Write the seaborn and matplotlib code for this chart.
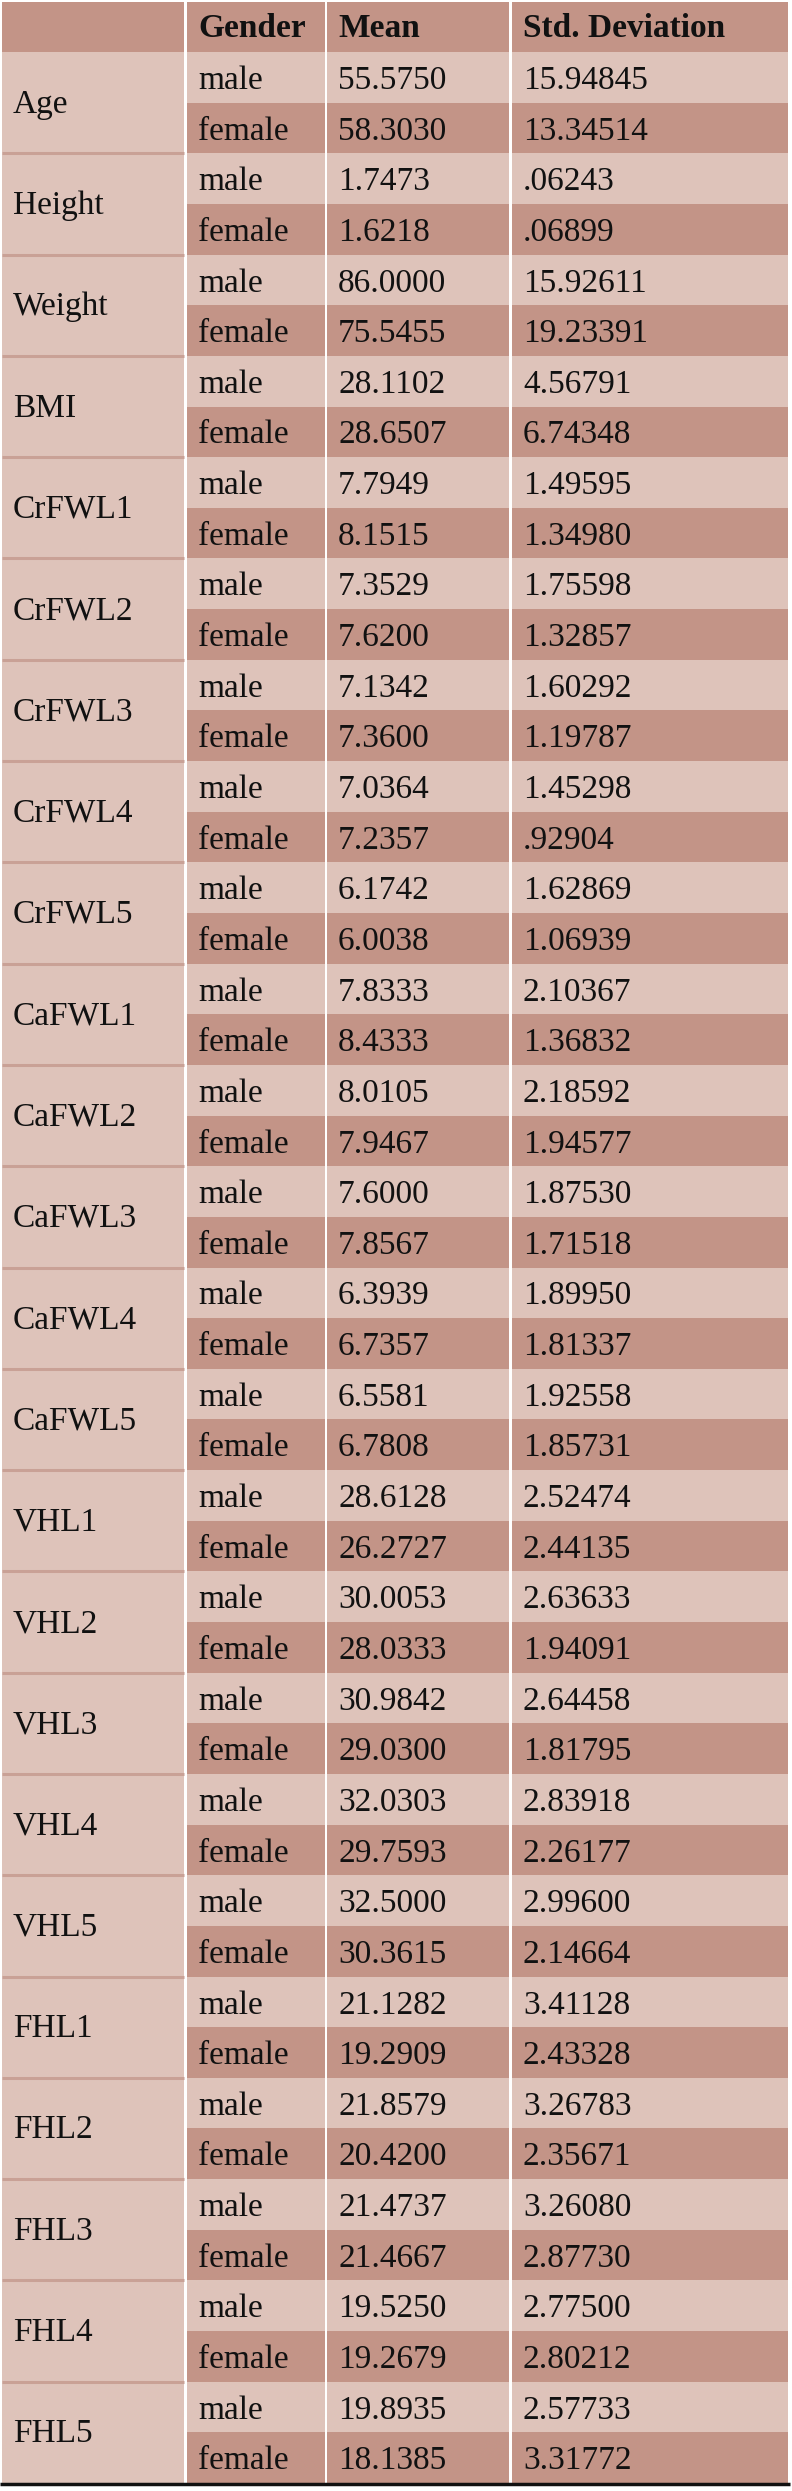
import numpy as np
import seaborn as sns
import matplotlib.pyplot as plt

sns.set_theme(style='white')
plt.rcParams['font.family'] = ['Liberation Serif', 'DejaVu Serif']

# table contents
variables = ['Age', 'Height', 'Weight', 'BMI',
             'CrFWL1', 'CrFWL2', 'CrFWL3', 'CrFWL4', 'CrFWL5',
             'CaFWL1', 'CaFWL2', 'CaFWL3', 'CaFWL4', 'CaFWL5',
             'VHL1', 'VHL2', 'VHL3', 'VHL4', 'VHL5',
             'FHL1', 'FHL2', 'FHL3', 'FHL4', 'FHL5']
genders = ['male', 'female']
headers = ['', 'Gender', 'Mean', 'Std. Deviation']

male_mean = ['55.5750', '1.7473', '86.0000', '28.1102',
             '7.7949', '7.3529', '7.1342', '7.0364', '6.1742',
             '7.8333', '8.0105', '7.6000', '6.3939', '6.5581',
             '28.6128', '30.0053', '30.9842', '32.0303', '32.5000',
             '21.1282', '21.8579', '21.4737', '19.5250', '19.8935']
female_mean = ['58.3030', '1.6218', '75.5455', '28.6507',
               '8.1515', '7.6200', '7.3600', '7.2357', '6.0038',
               '8.4333', '7.9467', '7.8567', '6.7357', '6.7808',
               '26.2727', '28.0333', '29.0300', '29.7593', '30.3615',
               '19.2909', '20.4200', '21.4667', '19.2679', '18.1385']
male_sd = ['15.94845', '.06243', '15.92611', '4.56791',
           '1.49595', '1.75598', '1.60292', '1.45298', '1.62869',
           '2.10367', '2.18592', '1.87530', '1.89950', '1.92558',
           '2.52474', '2.63633', '2.64458', '2.83918', '2.99600',
           '3.41128', '3.26783', '3.26080', '2.77500', '2.57733']
female_sd = ['13.34514', '.06899', '19.23391', '6.74348',
             '1.34980', '1.32857', '1.19787', '.92904', '1.06939',
             '1.36832', '1.94577', '1.71518', '1.81337', '1.85731',
             '2.44135', '1.94091', '1.81795', '2.26177', '2.14664',
             '2.43328', '2.35671', '2.87730', '2.80212', '3.31772']

light = '#dec3ba'
dark = '#c39487'
sep = '#c9a196'

W, H = 792, 2491
col_left = np.array([2, 187, 327, 512])
col_right = np.array([184, 325, 509, 788])
col_w = col_right - col_left
head_top, head_bot = 2, 52
body_bot = 2483

n_rows = len(variables) * len(genders)
row_h = (body_bot - head_bot) / n_rows
row_top = head_bot + np.arange(n_rows) * row_h
row_colors = [light if i % 2 == 0 else dark for i in range(n_rows)]

grp_h = row_h * len(genders)
grp_top = head_bot + np.arange(len(variables)) * grp_h

fig = plt.figure(figsize=(W / 100, H / 100), dpi=100)
ax = fig.add_axes([0, 0, 1, 1])
ax.set_xlim(0, W)
ax.set_ylim(H, 0)
ax.axis('off')

# header band
ax.bar(col_left, head_bot - head_top, width=col_w, bottom=head_top,
       align='edge', color=dark, linewidth=0)

# first column: merged cells per variable
ax.bar([col_left[0]] * len(variables), grp_h, width=col_w[0], bottom=grp_top,
       align='edge', color=light, linewidth=0)
ax.hlines(grp_top[1:], col_left[0], col_right[0], color=sep, lw=2.2)

# body columns
for c in range(1, 4):
    ax.bar([col_left[c]] * n_rows, row_h, width=col_w[c], bottom=row_top,
           align='edge', color=row_colors, linewidth=0)

# bottom rule
ax.hlines(body_bot + 1, 0, 790, color='#111111', lw=2.5)

fs = 24
pad = 11
for c, h in enumerate(headers):
    ax.text(col_left[c] + pad, head_top + 35, h, fontsize=fs,
            fontweight='bold', va='baseline', ha='left', color='#111111')

for g, var in enumerate(variables):
    ax.text(col_left[0] + pad, grp_top[g] + grp_h / 2 + 10, var, fontsize=fs,
            va='baseline', ha='left', color='#111111')
    cells = [(genders[0], male_mean[g], male_sd[g]),
             (genders[1], female_mean[g], female_sd[g])]
    for k, row in enumerate(cells):
        i = g * 2 + k
        for c, val in enumerate(row, start=1):
            ax.text(col_left[c] + pad, row_top[i] + row_h * 0.73, val,
                    fontsize=fs, va='baseline', ha='left', color='#111111')

fig.savefig('out.png', dpi=100, facecolor='white')
